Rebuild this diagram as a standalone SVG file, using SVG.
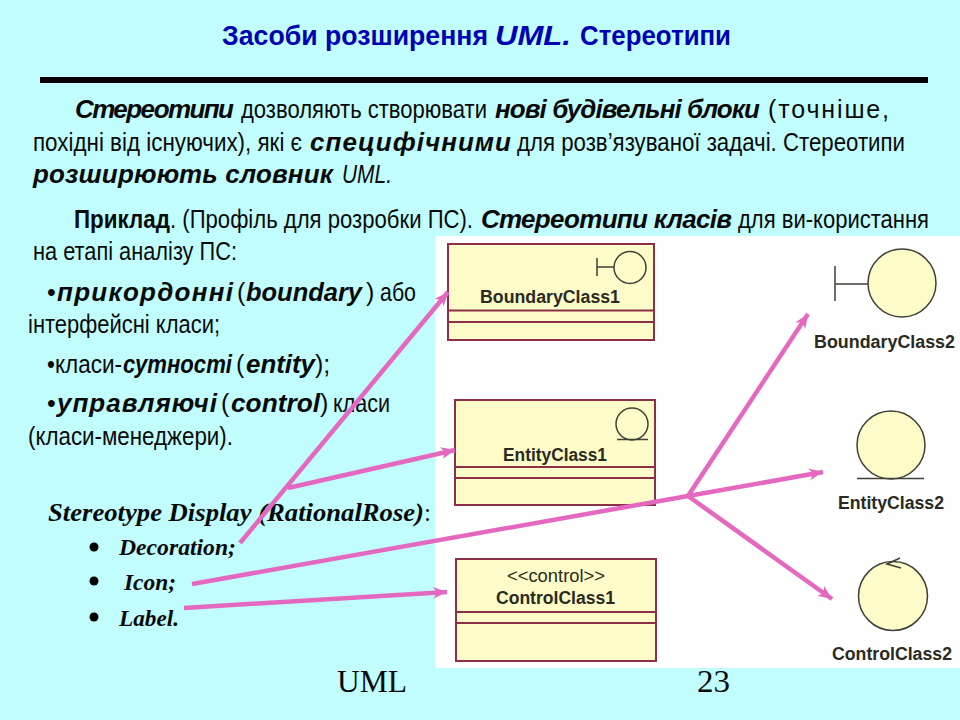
<svg xmlns="http://www.w3.org/2000/svg" width="960" height="720" viewBox="0 0 960 720">
<style>
.s{font-family:"Liberation Sans",Arial,sans-serif;font-size:25px;fill:#0a0a0a}
.b{font-weight:bold}.i{font-style:italic}
.b.i{font-size:26px}
.t,.t.i{font-size:28px;font-weight:bold;fill:#0000b4}
.f{font-family:"Liberation Serif","Times New Roman",serif;fill:#0a0a0a}
.c{font-family:"Liberation Sans",Arial,sans-serif;font-size:18px;font-weight:bold;fill:#2a2a20}
.box{fill:#fdfbc8;stroke:#8c3048;stroke-width:2}
.div{stroke:#8c3048;stroke-width:2}
.ic{fill:#fdfbc8;stroke:#404038;stroke-width:1.5}
.il{stroke:#404038;stroke-width:1.5;fill:none}
.con{stroke:#e468bf;stroke-width:4.500;fill:none}
</style>
<defs><marker id="arrow" markerUnits="userSpaceOnUse" markerWidth="16" markerHeight="14" refX="14" refY="7" orient="auto"><path d="M0 1L14 7L0 13L4 7Z" fill="#e468bf"/></marker></defs>
<rect width="960" height="720" fill="#c2fdfd"/>
<rect x="435" y="236" width="525" height="432" fill="#fefefe"/>
<g id="title">
<text class="s t" x="222" y="45" textLength="266" lengthAdjust="spacingAndGlyphs">Засоби розширення</text>
<text class="s t i" x="495" y="45" textLength="76" lengthAdjust="spacingAndGlyphs">UML.</text>
<text class="s t" x="580" y="45" textLength="151" lengthAdjust="spacingAndGlyphs">Стереотипи</text>
<rect x="40" y="77" width="888" height="6" fill="#000"/>
</g>
<g id="body">
<text class="s b i" x="75" y="118" textLength="159">Стереотипи</text>
<text class="s" x="241" y="118" textLength="246" lengthAdjust="spacingAndGlyphs">дозволяють створювати</text>
<text class="s b i" x="495" y="118" textLength="265">нові будівельні блоки</text>
<text class="s" x="768" y="118" textLength="121">(точніше,</text>
<text class="s" x="33" y="151" textLength="269" lengthAdjust="spacingAndGlyphs">похідні від існуючих), які є</text>
<text class="s b i" x="310" y="151" textLength="201">специфічними</text>
<text class="s" x="517" y="151" textLength="388" lengthAdjust="spacingAndGlyphs">для розв’язуваної задачі. Стереотипи</text>
<text class="s b i" x="33" y="183" textLength="300">розширюють словник</text>
<text class="s i" x="342" y="183" textLength="50" lengthAdjust="spacingAndGlyphs">UML.</text>
<text class="s b" x="74" y="228" textLength="96" lengthAdjust="spacingAndGlyphs">Приклад</text>
<text class="s" x="170" y="228" textLength="303" lengthAdjust="spacingAndGlyphs">. (Профіль для розробки ПС).</text>
<text class="s b i" x="481" y="228" textLength="251">Стереотипи класів</text>
<text class="s" x="738" y="228" textLength="191" lengthAdjust="spacingAndGlyphs">для ви-користання</text>
<text class="s" x="33" y="260" textLength="204" lengthAdjust="spacingAndGlyphs">на етапі аналізу ПС:</text>
</g>
<g id="bullets">
<text class="s" x="47" y="301">•</text>
<text class="s b i" x="57" y="301" textLength="176">прикордонні</text>
<text class="s" x="237" y="301">(</text>
<text class="s b i" x="246" y="301" textLength="116" lengthAdjust="spacingAndGlyphs">boundary</text>
<text class="s" x="366" y="301">)</text>
<text class="s" x="380" y="301" textLength="36" lengthAdjust="spacingAndGlyphs">або</text>
<text class="s" x="28" y="333" textLength="192" lengthAdjust="spacingAndGlyphs">інтерфейсні класи;</text>
<text class="s" x="47" y="373" textLength="75" lengthAdjust="spacingAndGlyphs">•класи-</text>
<text class="s b i" x="123" y="373" textLength="109" lengthAdjust="spacingAndGlyphs">сутності</text>
<text class="s" x="236" y="373">(</text>
<text class="s b i" x="246" y="373" textLength="69" lengthAdjust="spacingAndGlyphs">entity</text>
<text class="s" x="315" y="373">);</text>
<text class="s" x="47" y="412">•</text>
<text class="s b i" x="57" y="412" textLength="160">управляючі</text>
<text class="s" x="221" y="412">(</text>
<text class="s b i" x="231" y="412" textLength="89" lengthAdjust="spacingAndGlyphs">control</text>
<text class="s" x="320" y="412">)</text>
<text class="s" x="333" y="412" textLength="57" lengthAdjust="spacingAndGlyphs">класи</text>
<text class="s" x="28" y="445" textLength="205" lengthAdjust="spacingAndGlyphs">(класи-менеджери).</text>
</g>
<g id="display">
<text class="f b i" x="48" y="521" font-size="26" textLength="376" lengthAdjust="spacingAndGlyphs" style="font-size:26px">Stereotype Display (RationalRose)</text>
<text class="f" x="424" y="521" font-size="25">:</text>
<circle cx="94" cy="547" r="4.500" fill="#000"/><circle cx="94" cy="581" r="4.500" fill="#000"/><circle cx="94" cy="617" r="4.500" fill="#000"/>
<text class="f b i" x="119" y="555" textLength="117" lengthAdjust="spacingAndGlyphs" style="font-size:24px">Decoration;</text>
<text class="f b i" x="124" y="590" textLength="52" lengthAdjust="spacingAndGlyphs" style="font-size:24px">Icon;</text>
<text class="f b i" x="119" y="626" textLength="60" lengthAdjust="spacingAndGlyphs" style="font-size:24px">Label.</text>
</g>
<g id="BoundaryClass1">
<rect class="box" x="448" y="244" width="206" height="96"/>
<line class="div" x1="448" y1="310.500" x2="654" y2="310.500"/><line class="div" x1="448" y1="322" x2="654" y2="322"/>
<circle class="ic" cx="630" cy="267.500" r="16"/><path class="il" d="M597 258V276M597 267H614"/>
<text class="c" x="480" y="303" textLength="140" lengthAdjust="spacingAndGlyphs">BoundaryClass1</text>
</g>
<g id="EntityClass1">
<rect class="box" x="455" y="400" width="200" height="105"/>
<line class="div" x1="455" y1="467" x2="655" y2="467"/><line class="div" x1="455" y1="478" x2="655" y2="478"/>
<circle class="ic" cx="632" cy="424" r="16"/><path class="il" d="M617 439.500H648"/>
<text class="c" x="503" y="461" textLength="104" lengthAdjust="spacingAndGlyphs">EntityClass1</text>
</g>
<g id="ControlClass1">
<rect class="box" x="456" y="559" width="200" height="102"/>
<line class="div" x1="456" y1="612" x2="656" y2="612"/><line class="div" x1="456" y1="623" x2="656" y2="623"/>
<text class="c" x="507" y="582" textLength="98" lengthAdjust="spacingAndGlyphs" style="font-weight:normal">&lt;&lt;control&gt;&gt;</text>
<text class="c" x="496" y="604" textLength="119" lengthAdjust="spacingAndGlyphs">ControlClass1</text>
</g>
<g id="BoundaryClass2">
<circle class="ic" cx="902" cy="283" r="34"/><path class="il" d="M835 266V301M835 284H868"/>
<text class="c" x="814" y="348" textLength="141" lengthAdjust="spacingAndGlyphs">BoundaryClass2</text>
</g>
<g id="EntityClass2">
<circle class="ic" cx="891" cy="445" r="34"/><path class="il" d="M857 478.500H924"/>
<text class="c" x="838" y="509" textLength="106" lengthAdjust="spacingAndGlyphs">EntityClass2</text>
</g>
<g id="ControlClass2">
<circle class="ic" cx="893" cy="596" r="34.500"/><path class="il" d="M900 558L887 564L901 568"/>
<text class="c" x="832" y="660" textLength="120" lengthAdjust="spacingAndGlyphs">ControlClass2</text>
</g>
<g id="footer">
<text class="f" x="337" y="692" font-size="32" textLength="70" lengthAdjust="spacingAndGlyphs">UML</text>
<text class="f" x="697" y="692" font-size="32" textLength="33" lengthAdjust="spacingAndGlyphs">23</text>
</g>
<g id="connectors">
<line class="con" x1="240" y1="543" x2="448" y2="292" marker-end="url(#arrow)"/>
<line class="con" x1="288" y1="488" x2="455" y2="450" marker-end="url(#arrow)"/>
<line class="con" x1="184" y1="608" x2="447" y2="592" marker-end="url(#arrow)"/>
<line class="con" x1="192" y1="584" x2="688" y2="496"/>
<line class="con" x1="688" y1="496" x2="808" y2="314" marker-end="url(#arrow)"/>
<line class="con" x1="688" y1="496" x2="823" y2="472" marker-end="url(#arrow)"/>
<line class="con" x1="688" y1="496" x2="832" y2="599" marker-end="url(#arrow)"/>
</g>
</svg>
